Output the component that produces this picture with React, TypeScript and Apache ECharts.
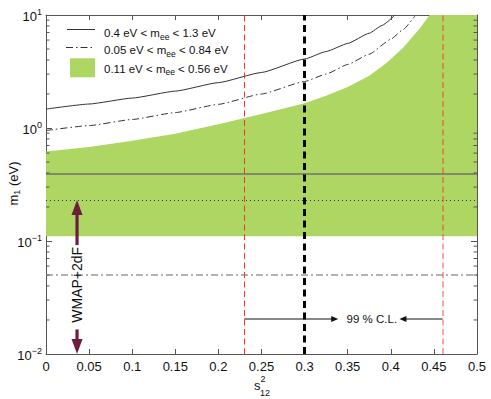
import React, { useEffect, useRef } from 'react';
import * as echarts from 'echarts';

const FONT = '"Liberation Sans", Arial, Helvetica, sans-serif';
const GREEN = '#aed662';
const AXIS = '#555555';
const MAROON = '#6d1e3c';

// 0.4 eV < m_ee < 1.3 eV (solid)
const solidS = [0, 0.05, 0.1, 0.15, 0.2, 0.25, 0.3, 0.325, 0.35, 0.375, 0.39, 0.405];
const solidM = [1.47, 1.63, 1.84, 2.12, 2.52, 3.1, 4.08, 4.75, 5.6, 6.9, 8.1, 10];
// 0.05 eV < m_ee < 0.84 eV (dash-dot)
const dashDotS = [0, 0.05, 0.1, 0.15, 0.2, 0.25, 0.3, 0.325, 0.35, 0.375, 0.4, 0.414, 0.428];
const dashDotM = [0.95, 1.05, 1.19, 1.37, 1.62, 2.0, 2.58, 3.0, 3.65, 4.5, 6.1, 7.41, 9.8];
// 0.11 eV < m_ee < 0.56 eV (green band)
const bandS = [0, 0.05, 0.1, 0.15, 0.2, 0.25, 0.3, 0.325, 0.35, 0.375, 0.395, 0.414, 0.434, 0.445, 0.5];
const bandTopM = [0.62, 0.68, 0.77, 0.89, 1.08, 1.33, 1.66, 1.93, 2.3, 2.9, 3.76, 5.1, 7.67, 10, 10];
const bandBottomM = 0.11;

// reference lines
const hLineSolidM = 0.39;
const hLineDottedM = 0.23;
const hLineDashDotM = 0.048;
const vLineLeftS = 0.23;
const vLineBestS = 0.3;
const vLineRightS = 0.46;

// annotations
const wmapS = 0.036;
const wmapUpArrowM = [0.092, 0.23];
const wmapDownArrowM = [0.0165, 0.01];
const wmapTextM = 0.041;
const clM = 0.0204;
const clLeftArrowS = [0.23, 0.339];
const clRightArrowS = [0.46, 0.41];
const clTextS = 0.378;
const annotationTexts = ['WMAP+2dF', '99 % C.L.'];

const yMinorTicks = [
  0.02, 0.03, 0.04, 0.05, 0.06, 0.07, 0.08, 0.09,
  0.2, 0.3, 0.4, 0.5, 0.6, 0.7, 0.8, 0.9,
  2, 3, 4, 5, 6, 7, 8, 9,
];

const legendRich = {
  a: { fontSize: 11.5, lineHeight: 14, verticalAlign: 'top', fontFamily: FONT, fill: '#111', color: '#111' },
  b: { fontSize: 8.5, lineHeight: 10, padding: [9, 0, 0, 0], verticalAlign: 'bottom', fontFamily: FONT, fill: '#111', color: '#111' },
};

export default function App() {
  const ref = useRef<HTMLDivElement>(null);
  useEffect(() => {
    if (!ref.current) return;
    const chart = echarts.init(ref.current, undefined, { renderer: 'svg' });

    const arrowData = [
      [wmapS, wmapUpArrowM[0], wmapS, wmapUpArrowM[1], 0],
      [wmapS, wmapDownArrowM[0], wmapS, wmapDownArrowM[1], 0],
      [clLeftArrowS[0], clM, clLeftArrowS[1], clM, 1],
      [clRightArrowS[0], clM, clRightArrowS[1], clM, 1],
    ];
    const textData = [
      [wmapS, wmapTextM, 0],
      [clTextS, clM, 1],
    ];

    const xAxisCommon = {
      type: 'value',
      min: 0,
      max: 0.5,
      interval: 0.05,
      axisLine: { show: true, onZero: false, lineStyle: { color: AXIS, width: 1 } },
      axisTick: { show: true, inside: true, length: 5, lineStyle: { color: AXIS } },
      splitLine: { show: false },
    };
    const yAxisCommon = {
      type: 'log',
      logBase: 10,
      min: 0.01,
      max: 10,
      axisLine: { show: true, onZero: false, lineStyle: { color: AXIS, width: 1 } },
      axisTick: { show: true, inside: true, length: 6, lineStyle: { color: AXIS } },
      splitLine: { show: false },
      minorTick: { show: false },
    };

    const option: any = {
      animation: false,
      textStyle: { fontFamily: FONT },
      grid: { left: 46, right: 14, top: 15, bottom: 45, containLabel: false, outerBoundsMode: 'none' },
      xAxis: [
        {
          ...xAxisCommon,
          position: 'bottom',
          axisLabel: {
            show: true,
            margin: 6,
            color: '#111',
            fontSize: 13,
            fontFamily: FONT,
            formatter: (v: number) => String(Number(v.toFixed(2))),
          },
        },
        { ...xAxisCommon, position: 'top', axisLabel: { show: false } },
      ],
      yAxis: [
        {
          ...yAxisCommon,
          position: 'left',
          axisLabel: {
            show: true,
            margin: 4,
            formatter: (v: number) => {
              const e = Math.round(Math.log10(v));
              return `{b|10}{e|${e < 0 ? '\u2212' + -e : e}}`;
            },
            rich: {
              b: { fontSize: 13, lineHeight: 16, padding: [2, 0, 0, 0], verticalAlign: 'bottom', color: '#111', fontFamily: FONT },
              e: { fontSize: 9, lineHeight: 10, verticalAlign: 'top', color: '#111', fontFamily: FONT },
            },
          },
        },
        { ...yAxisCommon, position: 'right', axisLabel: { show: false } },
      ],
      series: [
        {
          type: 'custom',
          name: '0.11 eV < mee < 0.56 eV',
          silent: true,
          clip: true,
          z: 1,
          data: bandS.map((s, i) => [s, bandTopM[i]]),
          renderItem: (params: any, api: any) => {
            if (params.dataIndex !== 0) return null;
            const top = bandS.map((s, i) => api.coord([s, bandTopM[i]]));
            const bottom = bandS.slice().reverse().map((s) => api.coord([s, bandBottomM]));
            return {
              type: 'polygon',
              shape: { points: top.concat(bottom) },
              style: { fill: GREEN, stroke: 'none' },
            };
          },
        },
        {
          type: 'line',
          name: '0.4 eV < mee < 1.3 eV',
          data: solidS.map((s, i) => [s, solidM[i]]),
          symbol: 'none',
          smooth: 0.15,
          smoothMonotone: 'x',
          lineStyle: { color: '#333', width: 1 },
          silent: true,
          z: 3,
          markLine: {
            silent: true,
            symbol: 'none',
            label: { show: false },
            emphasis: { disabled: true },
            data: [
              { yAxis: hLineSolidM, lineStyle: { color: '#707070', width: 1.5, type: 'solid' } },
              { yAxis: hLineDottedM, lineStyle: { color: '#333', width: 1, type: [1, 3] } },
              { yAxis: hLineDashDotM, lineStyle: { color: '#9a9a9a', width: 1.5, type: [7, 3, 2, 3] } },
              { xAxis: vLineLeftS, lineStyle: { color: '#ff3030', width: 1, type: [6, 3.5] } },
              { xAxis: vLineRightS, lineStyle: { color: 'rgba(255,40,40,0.42)', width: 2, type: [6, 3.5] } },
              { xAxis: vLineBestS, lineStyle: { color: '#000', width: 3, type: [7, 4.5] } },
            ],
          },
        },
        {
          type: 'line',
          name: '0.05 eV < mee < 0.84 eV',
          data: dashDotS.map((s, i) => [s, dashDotM[i]]),
          symbol: 'none',
          smooth: 0.15,
          smoothMonotone: 'x',
          lineStyle: { color: '#333', width: 1, type: [7, 3, 1.5, 3] },
          silent: true,
          z: 3,
        },
        {
          type: 'custom',
          name: 'minorTicks',
          silent: true,
          clip: false,
          z: 10,
          data: yMinorTicks.map((v) => [0, v]),
          renderItem: (_p: any, api: any) => {
            const v = api.value(1);
            const l = api.coord([0, v]);
            const r = api.coord([0.5, v]);
            return {
              type: 'group',
              children: [
                { type: 'line', shape: { x1: l[0], y1: l[1], x2: l[0] + 3.5, y2: l[1] }, style: { stroke: AXIS, lineWidth: 1 } },
                { type: 'line', shape: { x1: r[0], y1: r[1], x2: r[0] - 3.5, y2: r[1] }, style: { stroke: AXIS, lineWidth: 1 } },
              ],
            };
          },
        },
        {
          type: 'custom',
          name: 'arrows',
          silent: true,
          clip: false,
          z: 12,
          encode: { x: [0, 2], y: [1, 3] },
          data: arrowData,
          renderItem: (_p: any, api: any) => {
            const p1 = api.coord([api.value(0), api.value(1)]);
            const p2 = api.coord([api.value(2), api.value(3)]);
            const kind = api.value(4);
            const color = kind === 0 ? MAROON : '#111';
            const L = kind === 0 ? 15 : 7;
            const W = kind === 0 ? 5.5 : 3;
            const lw = kind === 0 ? 3.2 : 1;
            const dx = p2[0] - p1[0];
            const dy = p2[1] - p1[1];
            const len = Math.sqrt(dx * dx + dy * dy) || 1;
            const ux = dx / len;
            const uy = dy / len;
            const bx = p2[0] - ux * L;
            const by = p2[1] - uy * L;
            const nx = -uy;
            const ny = ux;
            return {
              type: 'group',
              children: [
                { type: 'line', shape: { x1: p1[0], y1: p1[1], x2: bx + ux * 1, y2: by + uy * 1 }, style: { stroke: color, lineWidth: lw } },
                {
                  type: 'polygon',
                  shape: { points: [[p2[0], p2[1]], [bx + nx * W, by + ny * W], [bx - nx * W, by - ny * W]] },
                  style: { fill: color },
                },
              ],
            };
          },
        },
        {
          type: 'custom',
          name: 'texts',
          silent: true,
          clip: false,
          z: 12,
          data: textData,
          renderItem: (_p: any, api: any) => {
            const p = api.coord([api.value(0), api.value(1)]);
            const idx = api.value(2);
            return {
              type: 'text',
              x: p[0],
              y: p[1],
              rotation: idx === 0 ? Math.PI / 2 : 0,
              style: {
                text: annotationTexts[idx],
                fontSize: idx === 0 ? 14 : 11.5,
                fontFamily: FONT,
                fill: '#111',
                align: 'center',
                verticalAlign: 'middle',
                textAlign: 'center',
                textVerticalAlign: 'middle',
              },
            };
          },
        },
      ],
      graphic: [
        { type: 'line', shape: { x1: 67, y1: 29.5, x2: 95, y2: 29.5 }, style: { stroke: '#333', lineWidth: 1 }, silent: true },
        { type: 'line', shape: { x1: 66, y1: 47.5, x2: 95, y2: 47.5 }, style: { stroke: '#333', lineWidth: 1, lineDash: [7, 3, 1.5, 3] }, silent: true },
        { type: 'rect', shape: { x: 70, y: 58.3, width: 25, height: 19 }, style: { fill: GREEN }, silent: true },
        {
          type: 'text', x: 104, y: 34, silent: true,
          style: { text: '{a|0.4 eV < m}{b|ee}{a| < 1.3 eV}', rich: legendRich, align: 'left', verticalAlign: 'middle', textAlign: 'left', textVerticalAlign: 'middle' },
        },
        {
          type: 'text', x: 104, y: 51, silent: true,
          style: { text: '{a|0.05 eV < m}{b|ee}{a| < 0.84 eV}', rich: legendRich, align: 'left', verticalAlign: 'middle', textAlign: 'left', textVerticalAlign: 'middle' },
        },
        {
          type: 'text', x: 104, y: 69.5, silent: true,
          style: { text: '{a|0.11 eV < m}{b|ee}{a| < 0.56 eV}', rich: legendRich, align: 'left', verticalAlign: 'middle', textAlign: 'left', textVerticalAlign: 'middle' },
        },
        // y axis name
        {
          type: 'text', x: 14.3, y: 183.5, rotation: Math.PI / 2, silent: true,
          style: {
            text: '{a|m}{b|1}{a| (eV)}',
            rich: {
              a: { fontSize: 13, lineHeight: 14, verticalAlign: 'top', fontFamily: FONT, fill: '#111', color: '#111' },
              b: { fontSize: 9, lineHeight: 10, padding: [8, 0, 0, 0], verticalAlign: 'bottom', fontFamily: FONT, fill: '#111', color: '#111' },
            },
            align: 'center', verticalAlign: 'middle', textAlign: 'center', textVerticalAlign: 'middle',
          },
        },
        // x axis name s^2_12
        {
          type: 'text', x: 254, y: 385, silent: true,
          style: { text: 's', fontSize: 13, fontFamily: FONT, fill: '#111', align: 'left', verticalAlign: 'middle', textAlign: 'left', textVerticalAlign: 'middle' },
        },
        {
          type: 'text', x: 260.5, y: 378.5, silent: true,
          style: { text: '2', fontSize: 9, fontFamily: FONT, fill: '#111', align: 'left', verticalAlign: 'middle', textAlign: 'left', textVerticalAlign: 'middle' },
        },
        {
          type: 'text', x: 260, y: 393, silent: true,
          style: { text: '12', fontSize: 9, fontFamily: FONT, fill: '#111', align: 'left', verticalAlign: 'middle', textAlign: 'left', textVerticalAlign: 'middle' },
        },
      ],
    };

    chart.setOption(option);
    return () => chart.dispose();
  }, []);

  return (
    <div
      ref={ref}
      style={{ position: 'fixed', left: 0, top: 0, width: 491, height: 399, background: '#fff' }}
    />
  );
}
